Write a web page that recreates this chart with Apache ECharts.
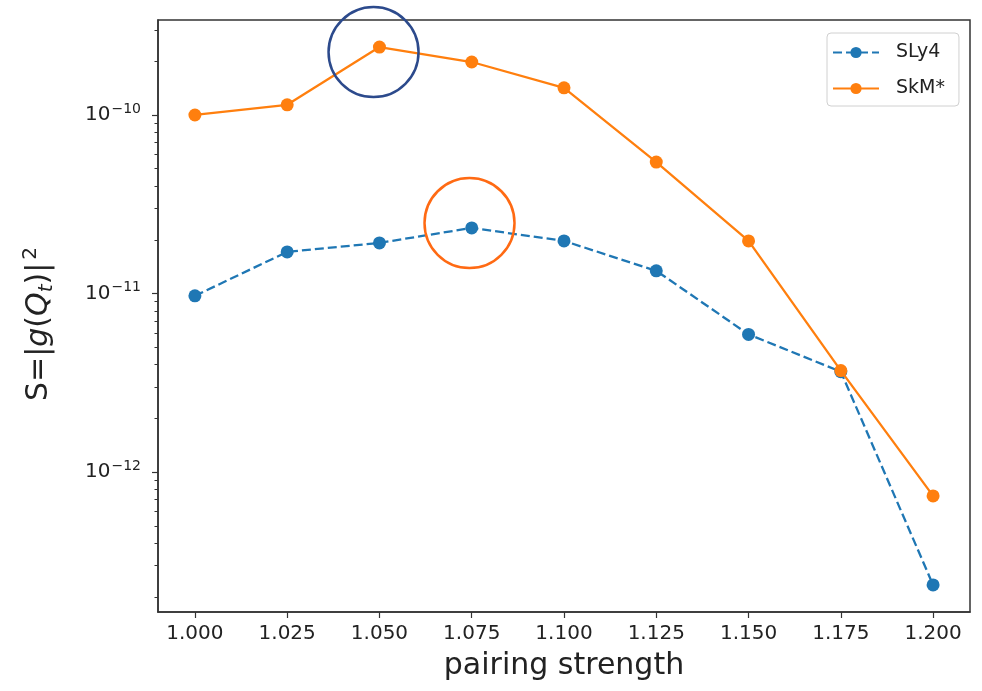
<!DOCTYPE html>
<html>
<head>
<meta charset="utf-8">
<script src="https://cdn.jsdelivr.net/npm/echarts@6/dist/echarts.min.js"></script>
<style>html,body{margin:0;padding:0;background:#fff;}#c{width:982px;height:691px;}</style>
</head>
<body>
<div id="c"></div>
<script>
// ---- data ----
const pairingStrength = [1.000, 1.025, 1.050, 1.075, 1.100, 1.125, 1.150, 1.175, 1.200];
const sly4 = [9.7e-12, 1.71e-11, 1.92e-11, 2.33e-11, 1.97e-11, 1.34e-11, 5.9e-12, 3.65e-12, 2.33e-13];
const skm = [1.0e-10, 1.14e-10, 2.40e-10, 1.98e-10, 1.42e-10, 5.45e-11, 1.97e-11, 3.7e-12, 7.35e-13];
const xTicks = [1.000, 1.025, 1.050, 1.075, 1.100, 1.125, 1.150, 1.175, 1.200];
const yMinorTicks = [2e-13, 3e-13, 4e-13, 5e-13, 6e-13, 7e-13, 8e-13, 9e-13,
  2e-12, 3e-12, 4e-12, 5e-12, 6e-12, 7e-12, 8e-12, 9e-12,
  2e-11, 3e-11, 4e-11, 5e-11, 6e-11, 7e-11, 8e-11, 9e-11,
  2e-10, 3e-10];
const circleBlue = [1.0484, 2.25e-10];
const circleOrange = [1.0744, 2.48e-11];
const xRange = [0.99, 1.21];
const yRange = [1.644e-13, 3.404e-10];

const chart = echarts.init(document.getElementById('c'));
const FONT = 'DejaVu Sans';
const toPairs = (xs, ys) => xs.map((x, i) => [x, ys[i]]);

chart.setOption({
  animation: false,
  backgroundColor: '#fff',
  grid: { left: 158, right: 12, top: 20, bottom: 79, show: true, borderColor: '#333', borderWidth: 1.5, backgroundColor: 'transparent' },
  legend: {
    data: ['SLy4', 'SkM*'],
    orient: 'vertical',
    left: 827, top: 33,
    padding: [10, 14, 8, 5],
    itemGap: 17,
    itemWidth: 46, itemHeight: 14,
    borderColor: '#d0d0d0', borderWidth: 1, borderRadius: 4,
    textStyle: { fontFamily: FONT, fontSize: 19, color: '#222', padding: [0, 0, 0, 12] }
  },
  xAxis: {
    type: 'value', min: xRange[0], max: xRange[1],
    name: 'pairing strength', nameLocation: 'middle', nameGap: 39,
    nameTextStyle: { fontFamily: FONT, fontSize: 30, color: '#222' },
    axisLine: { show: true, lineStyle: { color: '#333', width: 1.5 } },
    axisTick: { show: true, length: 6, customValues: xTicks, lineStyle: { color: '#333', width: 1.2 } },
    axisLabel: { customValues: xTicks, formatter: v => v.toFixed(3), fontFamily: FONT, fontSize: 20, color: '#222', margin: 12 },
    splitLine: { show: false }
  },
  yAxis: [{
    type: 'log', logBase: 10, min: yRange[0], max: yRange[1],
    name: '{a|S=|}{i|g}{a|(}{i|Q}{sub|t}{a|)|}{sup|2}',
    nameLocation: 'middle', nameGap: 100, nameRotate: 90,
    nameTextStyle: {
      fontFamily: FONT, fontSize: 30, color: '#222', padding: [0, 16, 0, 0],
      rich: {
        a: { fontFamily: FONT, fontSize: 30, color: '#222' },
        i: { fontFamily: FONT, fontSize: 30, fontStyle: 'italic', color: '#222' },
        sub: { fontFamily: FONT, fontSize: 20, fontStyle: 'italic', color: '#222', padding: [14, 0, 0, 0] },
        sup: { fontFamily: FONT, fontSize: 20, color: '#222', padding: [0, 0, 17, 3] }
      }
    },
    axisLine: { show: true, lineStyle: { color: '#333', width: 1.5 } },
    axisTick: { show: true, length: 6, lineStyle: { color: '#333', width: 1.2 } },
    axisLabel: {
      showMinLabel: false, showMaxLabel: false, margin: 17,
      formatter: v => { const e = Math.round(Math.log10(v)); return '{b|10}{s|\u2212' + Math.abs(e) + '}'; },
      rich: {
        b: { fontFamily: FONT, fontSize: 20, color: '#222' },
        s: { fontFamily: FONT, fontSize: 14, color: '#222', padding: [0, 0, 12, 1] }
      }
    },
    splitLine: { show: false }
  }, {
    type: 'log', logBase: 10, min: yRange[0], max: yRange[1], position: 'left', offset: 0,
    axisLine: { show: false },
    axisTick: { show: true, length: 3.5, customValues: yMinorTicks, lineStyle: { color: '#333', width: 1 } },
    axisLabel: { show: false },
    splitLine: { show: false }
  }],
  series: [{
    name: 'SLy4', type: 'line', yAxisIndex: 0,
    data: toPairs(pairingStrength, sly4),
    symbol: 'circle', symbolSize: 13,
    itemStyle: { color: '#1f77b4' },
    lineStyle: { color: '#1f77b4', width: 2.3, type: [9, 4] },
    z: 3
  }, {
    name: 'SkM*', type: 'line', yAxisIndex: 0,
    data: toPairs(pairingStrength, skm),
    symbol: 'circle', symbolSize: 13,
    itemStyle: { color: '#ff7f0e' },
    lineStyle: { color: '#ff7f0e', width: 2.3 },
    z: 4
  }, {
    name: 'annotBlue', type: 'scatter', yAxisIndex: 0, silent: true,
    data: [circleBlue], symbol: 'circle', symbolSize: 90,
    itemStyle: { color: 'rgba(0,0,0,0)', borderColor: '#2c4a8c', borderWidth: 2.5, opacity: 1 },
    z: 5
  }, {
    name: 'annotOrange', type: 'scatter', yAxisIndex: 0, silent: true,
    data: [circleOrange], symbol: 'circle', symbolSize: 90,
    itemStyle: { color: 'rgba(0,0,0,0)', borderColor: '#ff6a13', borderWidth: 2.5, opacity: 1 },
    z: 5
  }]
});
</script>
</body>
</html>
